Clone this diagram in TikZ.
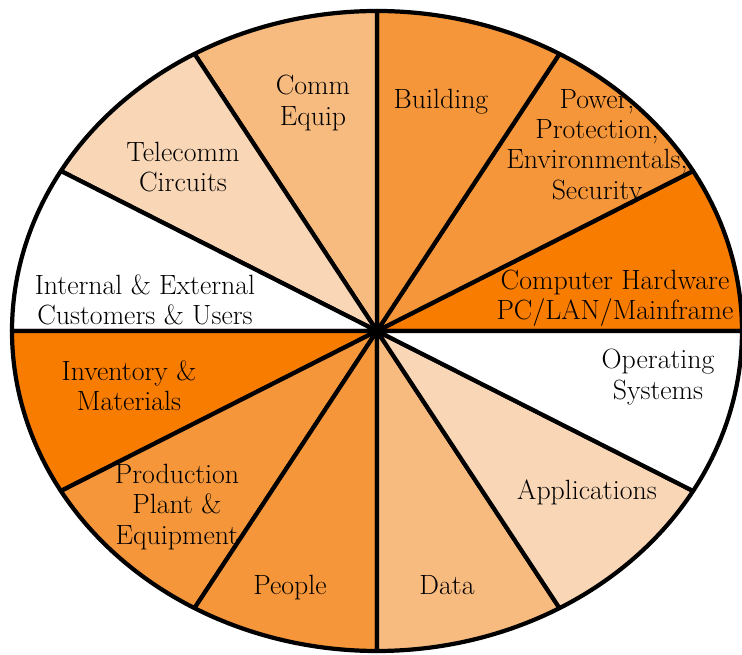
\documentclass[tikz,border=0pt]{standalone}
\usepackage{tikz}

\definecolor{hot}{RGB}{247,124,0}
\definecolor{mid}{RGB}{245,150,58}
\definecolor{soft}{RGB}{247,187,128}
\definecolor{pale}{RGB}{248,214,182}

\tikzset{
    slice/.style={draw=black, line width=3pt, line join=round,
                  x radius=9.125cm, y radius=8cm},
    lbl/.style={align=center, inner sep=1pt, font=\fontsize{19.8}{21.6}\selectfont},
}

\begin{document}
\begin{tikzpicture}
    \useasboundingbox (-9.425,-8.1) rectangle (9.125,8.275);
    \coordinate (o) at (0,0);

    % Slices, going round counter-clockwise from the right
    \filldraw[slice, fill=hot] (o) -- (0:9.125cm and 8cm) arc[start angle=0, end angle=30] -- cycle;
    \filldraw[slice, fill=mid] (o) -- (30:9.125cm and 8cm) arc[start angle=30, end angle=60] -- cycle;
    \filldraw[slice, fill=mid] (o) -- (60:9.125cm and 8cm) arc[start angle=60, end angle=90] -- cycle;
    \filldraw[slice, fill=soft] (o) -- (90:9.125cm and 8cm) arc[start angle=90, end angle=120] -- cycle;
    \filldraw[slice, fill=pale] (o) -- (120:9.125cm and 8cm) arc[start angle=120, end angle=150] -- cycle;
    \filldraw[slice, fill=white] (o) -- (150:9.125cm and 8cm) arc[start angle=150, end angle=180] -- cycle;
    \filldraw[slice, fill=hot] (o) -- (180:9.125cm and 8cm) arc[start angle=180, end angle=210] -- cycle;
    \filldraw[slice, fill=mid] (o) -- (210:9.125cm and 8cm) arc[start angle=210, end angle=240] -- cycle;
    \filldraw[slice, fill=mid] (o) -- (240:9.125cm and 8cm) arc[start angle=240, end angle=270] -- cycle;
    \filldraw[slice, fill=soft] (o) -- (270:9.125cm and 8cm) arc[start angle=270, end angle=300] -- cycle;
    \filldraw[slice, fill=pale] (o) -- (300:9.125cm and 8cm) arc[start angle=300, end angle=330] -- cycle;
    \filldraw[slice, fill=white] (o) -- (330:9.125cm and 8cm) arc[start angle=330, end angle=360] -- cycle;

    % Labels
    \node[lbl] (hw) at (5.95, 0.825) {Computer Hardware\\PC/LAN/Mainframe};
    \node[lbl] (power) at (5.5, 4.6) {Power,\\Protection,\\Environmentals,\\Security};
    \node[lbl] (building) at (1.6, 5.725) {Building};
    \node[lbl] (comm) at (-1.6, 5.7) {Comm\\Equip};
    \node[lbl] (telecomm) at (-4.85, 4.1) {Telecomm\\Circuits};
    \node[lbl] (users) at (-5.8, 0.775) {Internal \& External\\Customers \& Users};
    \node[lbl] (inventory) at (-6.2, -1.375) {Inventory \&\\Materials};
    \node[lbl] (plant) at (-5.0, -4.4) {Production\\Plant \&\\Equipment};
    \node[lbl] (people) at (-2.175, -6.425) {People};
    \node[lbl] (data) at (1.75, -6.35) {Data};
    \node[lbl] (apps) at (5.25, -4.025) {Applications};
    \node[lbl] (os) at (7.025, -1.15) {Operating\\Systems};
\end{tikzpicture}
\end{document}
